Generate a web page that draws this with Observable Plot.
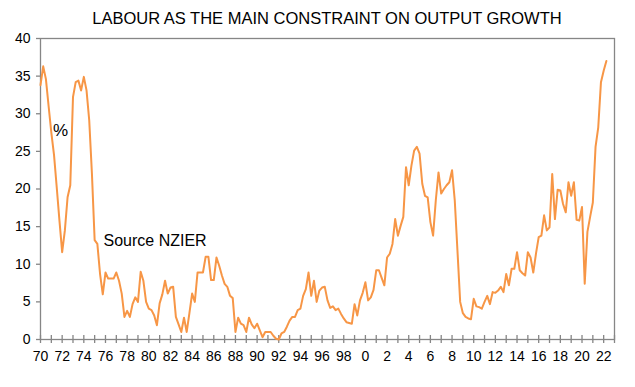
<!DOCTYPE html>
<html>
<head>
<meta charset="utf-8">
<script src="https://cdn.jsdelivr.net/npm/d3@7"></script>
<script src="https://cdn.jsdelivr.net/npm/@observablehq/plot@0.6"></script>
<style>
  html, body { margin: 0; padding: 0; background: #fff; }
  #wrap { width: 635px; height: 387px; overflow: hidden; }
  #title {
    box-sizing: border-box;
    height: 30px;
    padding: 10px 21px 0 40px;
    font-family: "Liberation Sans", Arial, sans-serif;
    font-size: 16.5px;
    line-height: 1;
    text-align: center;
    color: #000;
    white-space: nowrap;
  }
</style>
</head>
<body>
<div id="wrap">
  <div id="title">LABOUR AS THE MAIN CONSTRAINT ON OUTPUT GROWTH</div>
  <div id="chart"></div>
</div>
<script>
// Quarterly series, first quarter = 1970 Q1 (percent of firms citing labour)
const startYear = 1970;
const labourValues = [
  33.8, 36.3, 34.6, 31.0, 27.5, 24.5, 20.2, 15.8, 11.6, 14.5,
  18.9, 20.5, 32.2, 34.2, 34.4, 33.1, 34.9, 33.1, 29.1, 22.0,
  13.2, 12.7, 8.7, 6.0, 8.9, 8.1, 8.1, 8.1, 8.9, 7.8,
  6.1, 3.0, 3.8, 3.0, 4.7, 5.6, 5.0, 9.0, 7.8, 5.0,
  4.1, 3.9, 3.2, 1.9, 4.8, 6.0, 7.8, 6.1, 6.9, 7.0,
  3.0, 2.0, 1.0, 2.9, 1.0, 3.5, 6.1, 5.0, 8.9, 8.9,
  8.9, 11.0, 11.0, 7.9, 7.9, 10.9, 9.8, 8.5, 7.4, 7.0,
  5.8, 5.5, 1.0, 2.9, 2.1, 1.9, 1.0, 2.9, 2.0, 1.5,
  2.1, 1.2, 0.3, 1.0, 1.0, 1.0, 0.5, 0.1, 0.0, 0.8,
  1.0, 1.7, 2.5, 3.0, 3.0, 3.9, 4.1, 5.8, 6.7, 8.9,
  5.8, 7.8, 5.0, 6.5, 6.9, 7.0, 5.2, 4.2, 4.4, 3.9,
  4.1, 3.4, 2.8, 2.3, 2.2, 2.1, 4.7, 3.2, 5.2, 6.2,
  7.6, 5.2, 5.6, 6.6, 9.2, 9.2, 8.2, 7.2, 10.9, 11.4,
  12.7, 16.0, 13.8, 15.1, 16.3, 22.9, 20.5, 23.1, 25.1, 25.6,
  24.7, 20.7, 19.1, 18.9, 15.6, 13.8, 18.5, 22.2, 19.4, 20.0,
  20.5, 20.9, 22.5, 18.5, 11.8, 5.0, 3.5, 3.0, 2.8, 2.7,
  5.4, 4.4, 4.3, 4.1, 5.0, 5.8, 4.7, 6.3, 6.2, 6.5,
  7.0, 6.3, 8.7, 7.2, 9.4, 9.4, 11.6, 9.2, 8.8, 8.5,
  11.6, 10.9, 8.9, 11.4, 13.6, 13.8, 16.5, 14.5, 14.9, 22.0,
  16.0, 19.9, 19.8, 18.0, 16.9, 20.9, 19.1, 20.9, 15.9, 15.8,
  17.6, 7.4, 14.3, 16.3, 18.2, 25.6, 28.2, 34.2, 35.7, 37.0
];

// Axis ticks
const yearTicks = d3.range(1970, 2024);          // a tick mark every year
const yearLabels = d3.range(1970, 2023, 2);      // label every second year
const valueTicks = [0, 5, 10, 15, 20, 25, 30, 35, 40];
const xDomain = [1970, 2023];
const yDomain = [0, 40];

const annotationPercent = "%";
const annotationSource = "Source NZIER";

const data = labourValues.map((v, i) => ({ year: startYear + i / 4, value: v }));

const axisColor = "#868686";
const lineColor = "#F79646";

const chart = Plot.plot({
  width: 635,
  height: 357,
  marginTop: 8,
  marginBottom: 48,
  marginLeft: 40,
  marginRight: 21,
  style: {
    fontFamily: "'Liberation Sans', Arial, sans-serif",
    fontSize: "14px",
    color: "#000",
    background: "#fff"
  },
  x: { type: "linear", domain: xDomain },
  y: { domain: yDomain },
  marks: [
    Plot.frame({ stroke: axisColor, strokeWidth: 1.3 }),
    Plot.axisY({
      ticks: valueTicks,
      tickSize: 4,
      tickPadding: 6,
      stroke: axisColor,
      strokeWidth: 1.3,
      fill: "#000",
      fontSize: 14,
      label: null
    }),
    Plot.axisX({
      ticks: yearTicks,
      tickSize: 8,
      dy: -4,
      text: null,
      stroke: axisColor,
      strokeWidth: 1.3,
      label: null
    }),
    Plot.axisX({
      ticks: yearLabels,
      tickSize: 0,
      tickPadding: 12,
      tickFormat: d => String(d % 100),
      fill: "#000",
      fontSize: 14,
      label: null
    }),
    Plot.line(data, {
      x: "year",
      y: "value",
      stroke: lineColor,
      strokeWidth: 2,
      strokeLinejoin: "round"
    }),
    Plot.text([annotationPercent], {
      text: d => d,
      frameAnchor: "top-left",
      dx: 20,
      dy: 92,
      textAnchor: "middle",
      lineAnchor: "middle",
      fontSize: 17,
      fill: "#000"
    }),
    Plot.text([annotationSource], {
      text: d => d,
      frameAnchor: "top-left",
      dx: 63,
      dy: 202,
      textAnchor: "start",
      lineAnchor: "middle",
      fontSize: 16,
      fill: "#000"
    })
  ]
});

document.getElementById("chart").appendChild(chart);
</script>
</body>
</html>
